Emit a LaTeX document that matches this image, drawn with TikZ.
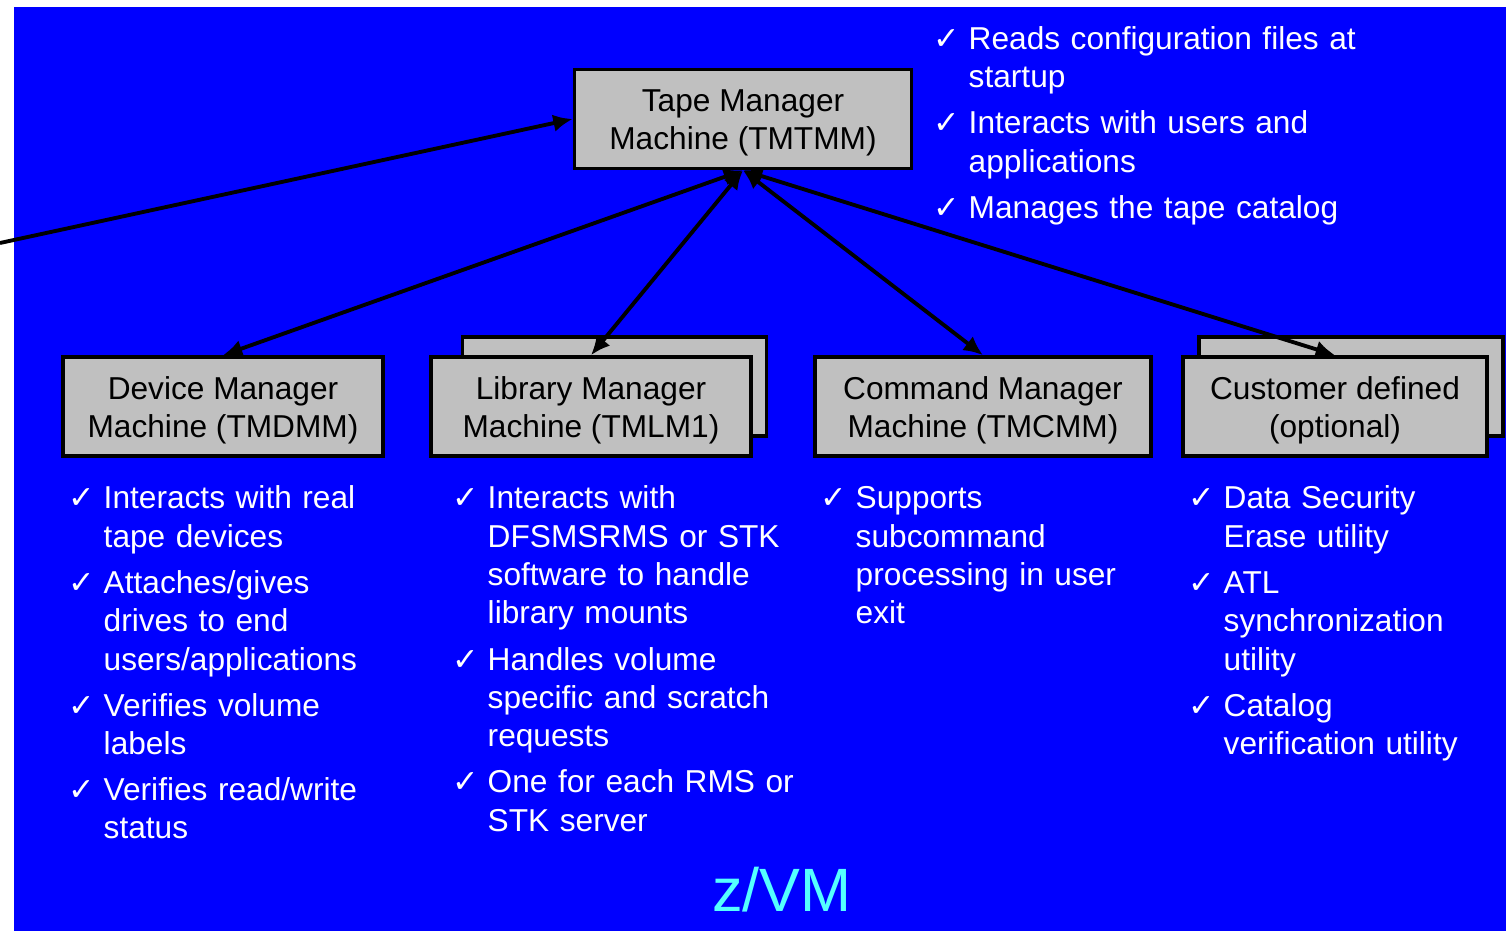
\documentclass[tikz,border=0pt]{standalone}
\usepackage{fontspec}
\setmainfont{Liberation Sans}
\newfontfamily\symfont{DejaVu Sans}
\usepackage{tikz}
\usetikzlibrary{arrows.meta, positioning}

\definecolor{slideblue}{RGB}{0,0,255}
\definecolor{boxgray}{RGB}{192,192,192}
\definecolor{vmcyan}{RGB}{85,255,255}

% check mark bullet and list item with hanging indent
\newcommand{\chk}{{\symfont\char"2713}}
\newcommand{\litem}[1]{\let\\\newline\noindent\hangindent=0.35cm\hangafter=1\makebox[0.35cm][l]{\chk}#1\par\vskip2.2pt}

\begin{document}
\begin{tikzpicture}[x=0.01cm, y=-0.01cm]
		\tikzset{
			machine/.style={rectangle, draw=black, line width=1pt, fill=boxgray, align=center,
			font=\fontsize{9pt}{10.9pt}\selectfont, inner sep=0pt, minimum height=0.99cm,
			text height=19pt, text depth=1.4pt},
			notes/.style={anchor=base west, inner sep=0pt, text=white, align=left, text width=#1,
			font=\fontsize{9pt}{10.9pt}\selectfont},
			link/.style={line width=1.1pt, {Latex[length=5.5pt,width=5pt]}-{Latex[length=5.5pt,width=5pt]}}
		}
		\useasboundingbox (0,0) rectangle (1506,931);
		\fill[slideblue] (14,7) rectangle (1506,931);

		\node[machine, minimum width=3.37cm](tmtmm) at (743,119){Tape Manager\\Machine (TMTMM)};
		\node[machine, minimum width=3.2cm](tmdmm) at (223,406.5){Device Manager\\Machine (TMDMM)};
		\node[machine, minimum width=3.04cm](tmlmback) at (614.5,386.5){};
		\node[machine, minimum width=3.2cm](tmlm) at (591,406.5){Library Manager\\Machine (TMLM1)};
		\node[machine, minimum width=3.36cm](tmcmm) at (983,406.5){Command Manager\\Machine (TMCMM)};
		\node[machine, minimum width=3.04cm](customback) at (1351,386.5){};
		\node[machine, minimum width=3.04cm](custom) at (1335,406.5){Customer defined\\(optional)};

		\node[notes=4.6cm](tmtmmnotes) at (933,49.5){%
			\litem{Reads configuration files at\\startup}
			\litem{Interacts with users and\\applications}
			\litem{Manages the tape catalog}};
		\node[notes=3.4cm](tmdmmnotes) at (68,509){%
			\litem{Interacts with real\\tape devices}
			\litem{Attaches/gives\\drives to end\\users/applications}
			\litem{Verifies volume\\labels}
			\litem{Verifies read/write\\status}};
		\node[notes=3.8cm](tmlmnotes) at (452,509){%
			\litem{Interacts with\\DFSMSRMS or STK\\software to handle\\library mounts}
			\litem{Handles volume\\specific and scratch\\requests}
			\litem{One for each RMS or\\STK server}};
		\node[notes=3.4cm](tmcmmnotes) at (820,509){%
			\litem{Supports\\subcommand\\processing in user\\exit}};
		\node[notes=3.1cm](customnotes) at (1188,509){%
			\litem{Data Security\\Erase utility}
			\litem{ATL\\synchronization\\utility}
			\litem{Catalog\\verification utility}};

		\node[anchor=base, inner sep=0pt, text=vmcyan, font=\fontsize{17.4pt}{20pt}\selectfont](zvm) at (782,911){z/VM};

		\coordinate (outside) at (0,243);
		\draw[line width=1.1pt, -{Latex[length=5.5pt,width=5pt]}](outside) -- (tmtmm.west);
		\draw[link](tmtmm.south) -- (tmdmm.north);
		\draw[link](tmtmm.south) -- (tmlm.north);
		\draw[link](tmtmm.south) -- (tmcmm.north);
		\draw[link](tmtmm.south) -- (custom.north);

	\end{tikzpicture}
\end{document}
